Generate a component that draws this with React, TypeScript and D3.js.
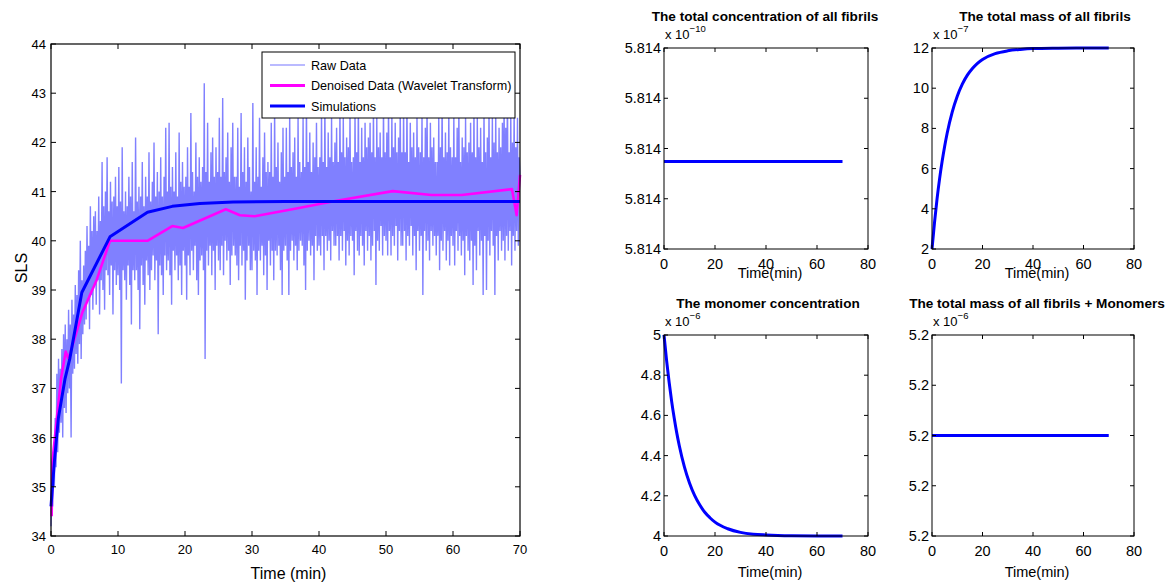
import React from 'react';
import * as d3 from 'd3';

// ---------- Main panel data ----------
const rawStep = 0.125; // minutes between raw samples
const rawSLS = [
  34.2, 35.1, 34.6, 35.6, 35.0, 36.4, 35.4, 37.3, 35.7, 37.6, 36.1, 37.4, 36.3, 37.8, 36.0, 38.1, 36.6, 38.3, 36.5, 38.0,
  36.9, 38.6, 37.0, 38.3, 36.0, 38.8, 37.3, 38.5, 37.4, 39.1, 37.7, 38.9, 37.5, 39.4, 37.9, 40.0, 37.6, 39.2, 38.1, 39.5,
  38.3, 39.8, 38.4, 40.3, 38.8, 39.9, 38.2, 40.7, 38.9, 40.2, 38.6, 40.5, 39.1, 40.6, 38.7, 40.2, 39.2, 40.9, 38.5, 40.4,
  39.2, 41.6, 39.0, 40.7, 38.6, 41.0, 39.4, 41.7, 39.3, 40.6, 38.9, 41.2, 39.5, 40.8, 38.5, 40.9, 39.4, 41.3, 39.1, 40.7,
  39.3, 41.5, 39.0, 40.8, 37.1, 41.9, 39.4, 40.6, 39.2, 41.0, 38.8, 40.7, 39.5, 41.3, 39.1, 40.9, 38.3, 41.6, 39.4, 40.6,
  39.2, 42.1, 39.4, 40.8, 39.0, 41.1, 38.2, 40.9, 39.5, 41.6, 39.1, 40.7, 38.7, 41.3, 39.6, 40.9, 39.3, 41.8, 39.0, 40.8,
  39.4, 41.2, 39.7, 42.0, 39.2, 40.9, 39.6, 41.4, 38.1, 41.0, 39.5, 41.7, 39.3, 40.9, 38.9, 41.3, 39.7, 42.3, 39.4, 41.0,
  39.6, 42.4, 39.3, 41.1, 38.7, 41.5, 39.8, 41.0, 39.4, 41.8, 39.7, 40.9, 39.2, 42.2, 39.5, 41.2, 38.9, 41.6, 39.8, 41.1,
  39.5, 41.3, 38.8, 41.9, 39.7, 41.1, 39.3, 42.6, 39.8, 41.4, 39.4, 41.0, 39.9, 42.0, 39.2, 41.3, 38.9, 41.7, 39.6, 41.2,
  39.7, 41.5, 39.4, 43.2, 37.6, 41.4, 39.8, 42.4, 39.5, 41.2, 39.9, 41.8, 39.3, 42.1, 39.8, 41.3, 39.0, 41.9, 39.9, 41.4,
  39.6, 42.5, 39.4, 41.3, 39.9, 42.9, 39.3, 41.4, 40.0, 41.7, 39.6, 42.2, 39.8, 41.2, 39.1, 41.9, 39.7, 42.4, 39.9, 41.3,
  39.7, 41.3, 39.5, 42.3, 39.2, 41.1, 39.9, 42.6, 39.5, 41.4, 39.8, 41.9, 38.8, 41.2, 39.6, 42.1, 39.9, 41.5, 39.4, 41.0,
  39.4, 42.8, 39.8, 41.2, 39.6, 41.9, 38.9, 41.3, 39.8, 42.5, 39.6, 41.1, 39.9, 41.7, 39.3, 42.2, 39.7, 41.4, 39.0, 41.6,
  40.0, 41.4, 39.5, 42.4, 39.8, 41.3, 39.2, 42.7, 39.8, 41.5, 39.7, 42.0, 39.9, 41.2, 39.4, 41.8, 38.9, 42.3, 39.8, 41.3,
  39.9, 42.3, 39.6, 41.4, 38.9, 42.6, 39.8, 41.5, 40.0, 41.8, 39.6, 42.1, 39.9, 41.3, 39.4, 42.5, 39.8, 41.6, 40.0, 41.4,
  39.9, 42.5, 39.5, 41.5, 39.0, 42.9, 39.8, 41.6, 40.0, 42.2, 39.7, 41.4, 39.9, 42.0, 39.2, 41.7, 40.1, 42.4, 39.8, 41.5,
  39.9, 41.7, 39.7, 42.6, 40.1, 41.6, 39.4, 42.8, 40.1, 41.5, 39.8, 42.2, 40.0, 41.7, 39.6, 42.5, 40.2, 41.6, 39.9, 42.0,
  39.9, 42.3, 40.1, 41.6, 39.6, 42.7, 40.1, 41.8, 39.8, 42.5, 40.2, 41.7, 39.5, 42.1, 40.0, 41.9, 39.7, 42.6, 40.1, 41.6,
  40.0, 41.7, 39.3, 42.6, 40.2, 41.8, 39.8, 42.9, 39.7, 41.6, 40.1, 42.3, 39.9, 41.7, 39.5, 42.4, 40.2, 41.9, 39.8, 42.1,
  40.1, 42.4, 39.6, 41.8, 39.9, 42.7, 40.2, 41.7, 39.1, 42.5, 40.0, 41.9, 39.8, 42.2, 40.3, 41.7, 39.7, 42.8, 40.1, 41.8,
  40.0, 42.2, 39.7, 42.8, 40.2, 41.7, 39.7, 42.6, 40.1, 41.9, 39.9, 42.4, 40.3, 41.8, 39.6, 42.1, 40.2, 42.7, 39.9, 41.8,
  39.9, 42.7, 40.2, 41.8, 39.6, 42.9, 40.1, 41.6, 39.9, 42.4, 40.3, 41.9, 39.7, 42.2, 40.1, 41.7, 39.4, 42.5, 40.2, 41.9,
  39.8, 41.8, 40.1, 42.6, 38.9, 41.7, 40.2, 42.3, 39.8, 42.8, 40.0, 41.7, 39.6, 42.4, 40.2, 41.9, 39.9, 42.1, 40.1, 41.6,
  39.7, 41.6, 40.1, 42.5, 39.4, 41.9, 40.0, 42.9, 39.8, 41.7, 40.2, 42.2, 39.6, 41.8, 40.0, 42.6, 39.5, 41.9, 40.1, 41.7,
  39.9, 42.6, 39.5, 41.7, 40.2, 42.3, 39.8, 42.7, 40.1, 41.6, 39.7, 42.1, 40.0, 41.9, 39.3, 42.5, 40.1, 41.8, 39.8, 42.0,
  39.6, 42.4, 40.0, 41.8, 39.1, 42.8, 39.9, 41.7, 39.4, 42.5, 40.2, 41.9, 39.7, 42.3, 40.0, 41.6, 38.9, 42.7, 40.1, 41.8,
  39.0, 42.1, 40.0, 42.7, 39.7, 41.7, 40.2, 42.5, 39.9, 42.0, 38.9, 42.6, 40.1, 41.8, 39.6, 42.3, 40.2, 41.9, 39.8, 42.4,
  40.0, 42.9, 39.6, 42.3, 40.1, 43.1, 39.8, 41.8, 40.2, 42.6, 39.5, 42.0, 40.1, 42.7, 39.8, 41.9, 40.2, 42.5, 39.9, 41.7,
  41.3,
];

const denoisedTime = [0.1, 0.2, 0.8, 1.5, 2.2, 2.6, 4.7, 6.8, 8.8, 14.4, 18.1, 19.7, 26.1, 28.2, 30.4, 37.2, 42, 51, 56.8, 61.3, 68.8, 69.5, 70];
const denoisedSLS = [34.4, 35.5, 36.3, 37.2, 37.75, 37.6, 38.55, 39.2, 40.0, 40.0, 40.3, 40.26, 40.64, 40.52, 40.5, 40.67, 40.8, 41.01, 40.93, 40.93, 41.05, 40.52, 41.34];

const simTime = [0, 0.5, 1.1, 2.1, 2.8, 4.6, 8.8, 14.4, 18.1, 22.2, 27.2, 35, 70];
const simSLS = [34.6, 35.5, 36.4, 37.2, 37.6, 38.95, 40.08, 40.58, 40.7, 40.76, 40.79, 40.8, 40.8];

const mainXTicks = [0, 10, 20, 30, 40, 50, 60, 70];
const mainYTicks = [34, 35, 36, 37, 38, 39, 40, 41, 42, 43, 44];

const legendLabels = ['Raw Data', 'Denoised Data (Wavelet Transform)', 'Simulations'];

// ---------- Sub panel data ----------
const subTime = [0, 1, 2, 3, 4, 5, 6, 8, 10, 12, 14, 16, 18, 20, 25, 30, 35, 40, 50, 60, 70];
const fibrilMass = [2, 3.33, 4.49, 5.49, 6.35, 7.10, 7.76, 8.81, 9.60, 10.20, 10.65, 10.98, 11.24, 11.43, 11.72, 11.86, 11.93, 11.97, 11.99, 12.0, 12.0];
const monomerConc = [5, 4.875, 4.766, 4.670, 4.587, 4.513, 4.449, 4.344, 4.264, 4.202, 4.155, 4.118, 4.091, 4.069, 4.036, 4.018, 4.009, 4.005, 4.001, 4.0, 4.0];
const flatTime = [0, 70];
const fibrilConc = [5.8139935, 5.8139935];
const totalMass = [5.2, 5.2];

const subXTicks = [0, 20, 40, 60, 80];
const fibrilConcTicks = [5.81395, 5.813975, 5.814, 5.814025, 5.81405];
const fibrilMassTicks = [2, 4, 6, 8, 10, 12];
const monomerTicks = [4, 4.2, 4.4, 4.6, 4.8, 5];
const totalMassTicks = [5.19998, 5.19999, 5.2, 5.20001, 5.20002];

const FONT = '"Liberation Sans", Arial, Helvetica, sans-serif';

type PanelProps = {
  x0: number; x1: number; y0: number; y1: number;
  times: number[]; values: number[];
  yDomain: [number, number]; yTicks: number[]; yFmt: (v: number) => string;
  title: string; titleX: number; titleY: number; exp: string; xLabelDy: number;
};

function SubPanel(p: PanelProps) {
  const x = d3.scaleLinear().domain([0, 80]).range([p.x0, p.x1]);
  const y = d3.scaleLinear().domain(p.yDomain).range([p.y1, p.y0]);
  const line = d3.line<number>().x((_, i) => x(p.times[i])).y((d) => y(d)).curve(d3.curveMonotoneX);
  const tl = 4;
  return (
    <g fontFamily={FONT}>
      <path d={line(p.values) || ''} fill="none" stroke="#0000ff" strokeWidth={3} />
      <rect x={p.x0} y={p.y0} width={p.x1 - p.x0} height={p.y1 - p.y0} fill="none" stroke="#000" strokeWidth={1} />
      {subXTicks.map((t) => (
        <g key={'x' + t}>
          <line x1={x(t)} x2={x(t)} y1={p.y1} y2={p.y1 - tl} stroke="#000" />
          <line x1={x(t)} x2={x(t)} y1={p.y0} y2={p.y0 + tl} stroke="#000" />
          <text x={x(t)} y={p.y1 + 20} fontSize={14.5} textAnchor="middle" fill="#000">{t}</text>
        </g>
      ))}
      {p.yTicks.map((t) => (
        <g key={'y' + t}>
          <line x1={p.x0} x2={p.x0 + tl} y1={y(t)} y2={y(t)} stroke="#000" />
          <line x1={p.x1} x2={p.x1 - tl} y1={y(t)} y2={y(t)} stroke="#000" />
          <text x={p.x0 - 3} y={y(t) + 5} fontSize={14.5} textAnchor="end" fill="#000">{p.yFmt(t)}</text>
        </g>
      ))}
      <text x={(p.x0 + p.x1) / 2 + 4} y={p.y1 + p.xLabelDy} fontSize={14.5} textAnchor="middle" fill="#000">Time(min)</text>
      <text x={p.titleX} y={p.titleY} fontSize={13.6} fontWeight="bold" textAnchor="middle" fill="#000">{p.title}</text>
      <text x={p.x0 + 1} y={p.y0 - 9} fontSize={13} fill="#000">
        x 10<tspan fontSize={9.5} dy={-7}>{p.exp}</tspan>
      </text>
    </g>
  );
}

export default function App() {
  const X0 = 51, X1 = 520, Y0 = 44, Y1 = 536;
  const x = d3.scaleLinear().domain([0, 70]).range([X0, X1]);
  const y = d3.scaleLinear().domain([34, 44]).range([Y1, Y0]);
  const rawLine = d3.line<number>().x((_, i) => x(i * rawStep)).y((d) => y(d));
  const denLine = d3.line<number>().x((_, i) => x(denoisedTime[i])).y((d) => y(d));
  const simLine = d3.line<number>().x((_, i) => x(simTime[i])).y((d) => y(d));
  const tl = 5;

  const legendColors = ['#a3a3ff', '#ff00ff', '#0000ff'];
  const legendWidths = [1.5, 3, 3.2];
  const legendY = [65, 85.5, 106];

  const fmt3 = d3.format('.3f');
  const fmt1 = d3.format('.1f');
  const fmtG = (v: number) => String(+v.toFixed(1));

  return (
    <svg width={1170} height={587} style={{ position: 'absolute', left: 0, top: 0, display: 'block', background: '#fff' }}>
      <rect x={0} y={0} width={1170} height={587} fill="#fff" />
      <g fontFamily={FONT}>
        <path d={rawLine(rawSLS) || ''} fill="none" stroke="#8080ff" strokeWidth={1.4} strokeLinejoin="miter" strokeMiterlimit={2} />
        <path d={denLine(denoisedSLS) || ''} fill="none" stroke="#ff00ff" strokeWidth={2.6} strokeLinejoin="round" />
        <path d={simLine(simSLS) || ''} fill="none" stroke="#0000ff" strokeWidth={3} strokeLinejoin="round" />

        <rect x={X0} y={Y0} width={X1 - X0} height={Y1 - Y0} fill="none" stroke="#000" strokeWidth={1.2} />
        {mainXTicks.map((t) => (
          <g key={'mx' + t}>
            <line x1={x(t)} x2={x(t)} y1={Y1} y2={Y1 - tl} stroke="#000" />
            <line x1={x(t)} x2={x(t)} y1={Y0} y2={Y0 + tl} stroke="#000" />
            <text x={x(t)} y={Y1 + 18} fontSize={13} textAnchor="middle" fill="#000">{t}</text>
          </g>
        ))}
        {mainYTicks.map((t) => (
          <g key={'my' + t}>
            <line x1={X0} x2={X0 + tl} y1={y(t)} y2={y(t)} stroke="#000" />
            <line x1={X1} x2={X1 - tl} y1={y(t)} y2={y(t)} stroke="#000" />
            <text x={X0 - 5} y={y(t) + 5} fontSize={13} textAnchor="end" fill="#000">{t}</text>
          </g>
        ))}
        <text x={(X0 + X1) / 2 + 3} y={579} fontSize={16} textAnchor="middle" fill="#000">Time (min)</text>
        <text transform="translate(27,268) rotate(-90)" fontSize={16} textAnchor="middle" fill="#000">SLS</text>

        <rect x={262} y={52} width={253} height={66} fill="#fff" stroke="#000" strokeWidth={1} />
        {legendLabels.map((lab, i) => (
          <g key={lab}>
            <line x1={270} x2={305} y1={legendY[i]} y2={legendY[i]} stroke={legendColors[i]} strokeWidth={legendWidths[i]} />
            <text x={311} y={legendY[i] + 4.5} fontSize={12.6} fill="#000">{lab}</text>
          </g>
        ))}
      </g>

      <SubPanel x0={664} x1={868} y0={48} y1={249} times={flatTime} values={fibrilConc}
        yDomain={[5.81395, 5.81405]} yTicks={fibrilConcTicks} yFmt={fmt3}
        title="The total concentration of all fibrils" titleX={765} titleY={21} exp="−10" xLabelDy={29} />
      <SubPanel x0={932} x1={1134} y0={48} y1={249} times={subTime} values={fibrilMass}
        yDomain={[2, 12]} yTicks={fibrilMassTicks} yFmt={fmtG}
        title="The total mass of all fibrils" titleX={1045} titleY={21} exp="−7" xLabelDy={29} />
      <SubPanel x0={664} x1={868} y0={335} y1={536} times={subTime} values={monomerConc}
        yDomain={[4, 5]} yTicks={monomerTicks} yFmt={fmtG}
        title="The monomer concentration" titleX={768} titleY={308} exp="−6" xLabelDy={41} />
      <SubPanel x0={932} x1={1134} y0={335} y1={536} times={flatTime} values={totalMass}
        yDomain={[5.19998, 5.20002]} yTicks={totalMassTicks} yFmt={fmt1}
        title="The total mass of all fibrils + Monomers" titleX={1037} titleY={308} exp="−6" xLabelDy={41} />
    </svg>
  );
}
